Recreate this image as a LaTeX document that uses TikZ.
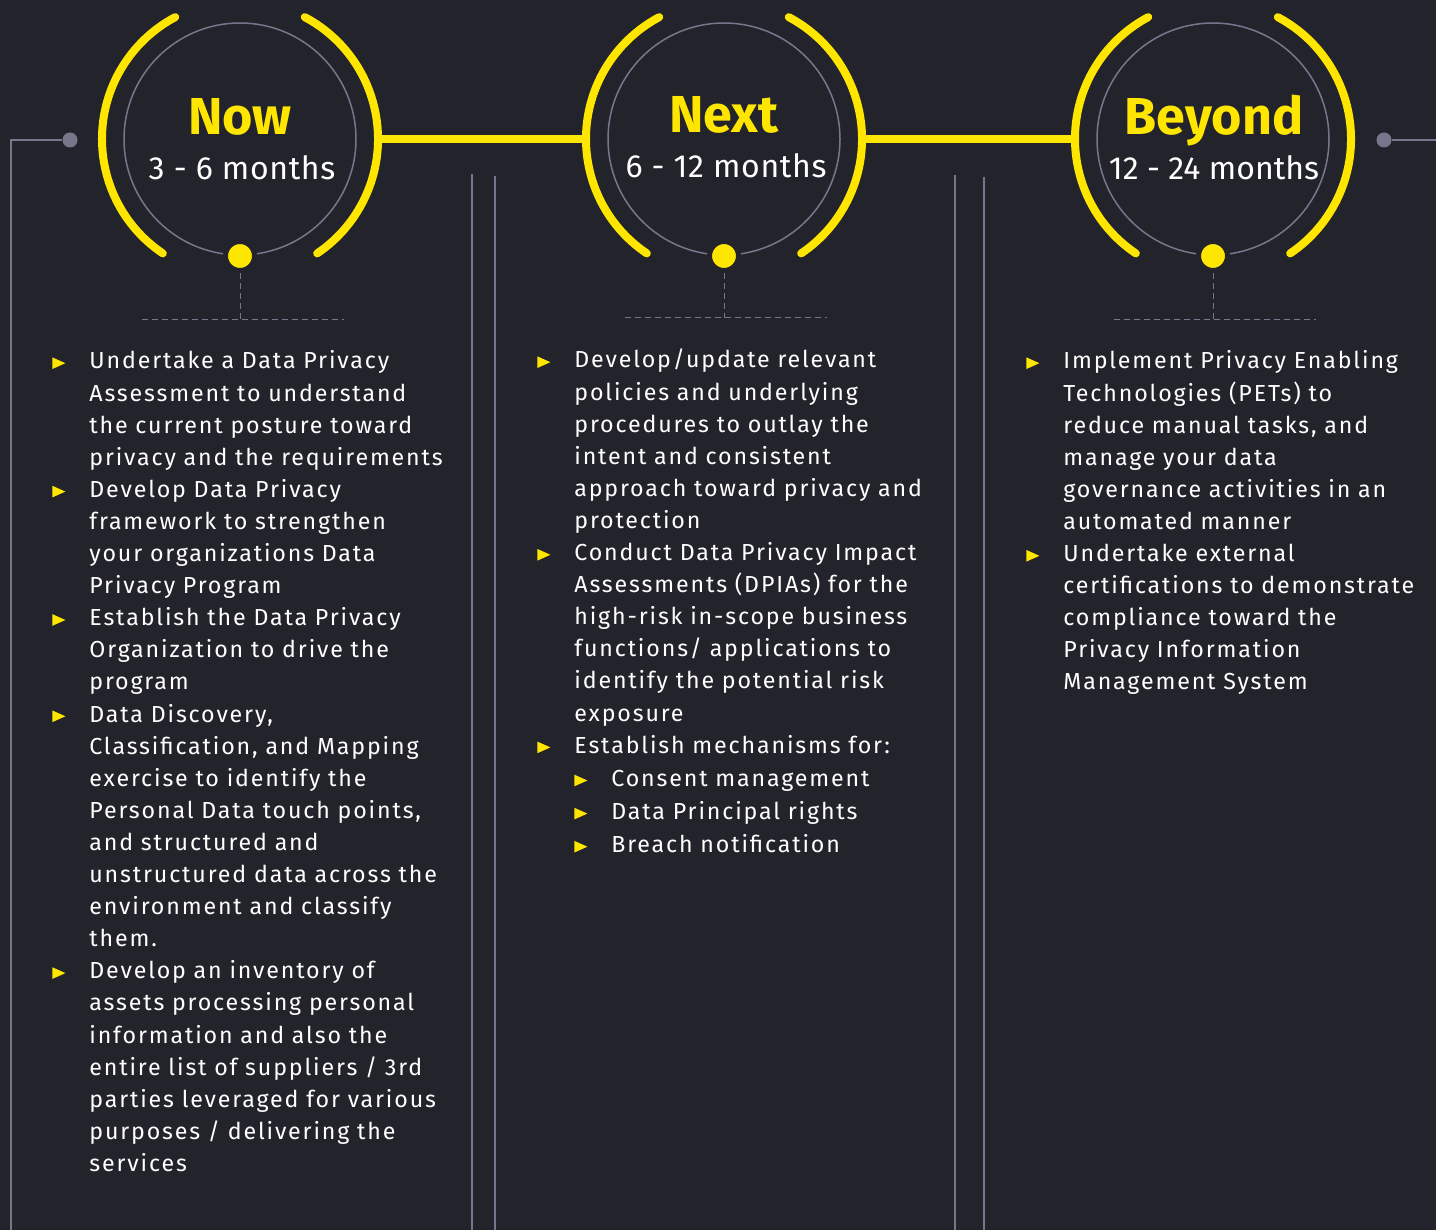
\documentclass[tikz,border=0pt]{standalone}
\usepackage{fontspec}
\setmainfont{Fira Sans}[LetterSpace=8]
\usepackage{xcolor}
\usepackage{tikz}
\usetikzlibrary{positioning}
\definecolor{PlanYellow}{RGB}{255,230,0}
\definecolor{PlanGray}{RGB}{118,118,140}
\definecolor{PlanBack}{RGB}{35,36,43}

% yellow pointer in front of an item, and the blank of the same width
\newcommand{\pointer}{\makebox[18.5pt][l]{\tikz[baseline=0pt]\fill[PlanYellow] (0pt,0pt) -- (6.5pt,2.9pt) -- (0pt,5.8pt) -- cycle;}}
\newcommand{\gap}{\makebox[18.5pt]{}}

\begin{document}
\begin{tikzpicture}[
  x=0.5pt, y=-0.5pt,
  ring/.style={
    circle,
    draw=PlanGray,
    line width=0.75pt,
    minimum size=116pt,
    inner sep=0pt,
    outer sep=11pt,
  },
  halo/.style={line width=4pt, PlanYellow, line cap=round},
  link/.style={line width=4pt, PlanYellow},
  dot/.style={
    circle,
    fill=PlanYellow,
    draw=PlanBack,
    line width=2.5pt,
    minimum size=14.5pt,
    inner sep=0pt,
  },
  pin/.style={circle, fill=PlanGray, minimum size=7.5pt, inner sep=0pt},
  rail/.style={line width=1pt, PlanGray},
  drop/.style={line width=0.5pt, PlanGray, dash pattern=on 3pt off 2pt},
  title/.style={font=\fontsize{26}{30}\selectfont\bfseries\addfontfeature{LetterSpace=0}, text=PlanYellow, inner sep=0pt},
  span/.style={font=\fontsize{16}{18}\selectfont\addfontfeature{LetterSpace=2}, text=white, inner sep=0pt},
  plan/.style={
    font=\fontsize{11.6}{16.05}\selectfont,
    text=white,
    align=left,
    text width=230pt,
    inner sep=0pt,
  },
]
  \useasboundingbox (0,0) rectangle (1436,1230);
  \fill[PlanBack] (0,0) rectangle (1436,1230);

  % column dividers
  \draw[line width=1pt, PlanGray] (472,174) -- (472,1230);
  \draw[line width=0.6pt, PlanGray] (495,176) -- (495,1230);
  \draw[line width=0.6pt, PlanGray] (955,175) -- (955,1230);
  \draw[line width=1pt, PlanGray] (984,177) -- (984,1230);

  % the three milestones (y runs downwards, so angles turn clockwise)
  \node[ring] (now) at (240,139) {};
  \node[ring] (next) at (724,139) {};
  \node[ring] (beyond) at (1213,139) {};

  \draw[halo] (now) ++(124:138) arc[start angle=124, end angle=242, radius=138];
  \draw[halo] (now) ++(-62:138) arc[start angle=-62, end angle=56, radius=138];
  \draw[halo] (next) ++(124:138) arc[start angle=124, end angle=242, radius=138];
  \draw[halo] (next) ++(-62:138) arc[start angle=-62, end angle=56, radius=138];
  \draw[halo] (beyond) ++(124:138) arc[start angle=124, end angle=242, radius=138];
  \draw[halo] (beyond) ++(-62:138) arc[start angle=-62, end angle=56, radius=138];

  \draw[link] (now) -- (next);
  \draw[link] (next) -- (beyond);

  \node[title, anchor=base] (now-title) at (240,135) {Now};
  \node[span, anchor=base] (now-span) at (242,180) {3 - 6 months};
  \node[title, anchor=base] (next-title) at (724,133) {Next};
  \node[span, anchor=base] (next-span) at (726,178) {6 - 12 months};
  \node[title, anchor=base] (beyond-title) at (1214,135) {Beyond};
  \node[span, anchor=base, font=\fontsize{16}{18}\selectfont\addfontfeature{LetterSpace=0}] (beyond-span) at (1214,180) {12 - 24 months};

  % dots under the rings and the dashed drops
  \node[dot, yshift=-58.5pt] (now-dot) at (now) {};
  \node[dot, yshift=-58.5pt] (next-dot) at (next) {};
  \node[dot, yshift=-58.5pt] (beyond-dot) at (beyond) {};
  \coordinate[yshift=-90.5pt] (now-foot) at (now);
  \coordinate[yshift=-89.5pt] (next-foot) at (next);
  \coordinate[yshift=-90.5pt] (beyond-foot) at (beyond);
  \draw[drop] (now-dot) -- (now-foot);
  \draw[drop] (next-dot) -- (next-foot);
  \draw[drop] (beyond-dot) -- (beyond-foot);
  \draw[drop] ([xshift=-49pt]now-foot) -- ([xshift=52pt]now-foot);
  \draw[drop] ([xshift=-49.5pt]next-foot) -- ([xshift=51.5pt]next-foot);
  \draw[drop] ([xshift=-49.5pt]beyond-foot) -- ([xshift=51.5pt]beyond-foot);

  % side rails
  \node[pin] (left-pin) at (70,140) {};
  \node[pin] (right-pin) at (1384,140) {};
  \coordinate (left-bend) at (11,140);
  \coordinate (left-end) at (11,1230);
  \coordinate (right-end) at (1436,140);
  \draw[rail] (left-pin) -- (left-bend) -- (left-end);
  \draw[rail] (right-pin) -- (right-end);

  % action lists
  \node[plan, anchor=base west] (now-list) at (52,369) {%
    \pointer Undertake a Data Privacy\\
    \gap Assessment to understand\\
    \gap the current posture toward\\
    \gap privacy and the requirements\\
    \pointer Develop Data Privacy\\
    \gap framework to strengthen\\
    \gap your organizations Data\\
    \gap Privacy Program\\
    \pointer Establish the Data Privacy\\
    \gap Organization to drive the\\
    \gap program\\
    \pointer Data Discovery,\\
    \gap Classification, and Mapping\\
    \gap exercise to identify the\\
    \gap Personal Data touch points,\\
    \gap and structured and\\
    \gap unstructured data across the\\
    \gap environment and classify\\
    \gap them.\\
    \pointer Develop an inventory of\\
    \gap assets processing personal\\
    \gap information and also the\\
    \gap entire list of suppliers / 3rd\\
    \gap parties leveraged for various\\
    \gap purposes / delivering the\\
    \gap services};

  \node[plan, anchor=base west] (next-list) at (537,368) {%
    \pointer Develop/update relevant\\
    \gap policies and underlying\\
    \gap procedures to outlay the\\
    \gap intent and consistent\\
    \gap approach toward privacy and\\
    \gap protection\\
    \pointer Conduct Data Privacy Impact\\
    \gap Assessments (DPIAs) for the\\
    \gap high-risk in-scope business\\
    \gap functions/ applications to\\
    \gap identify the potential risk\\
    \gap exposure\\
    \pointer Establish mechanisms for:\\[0.5pt]
    \gap\pointer Consent management\\[0.5pt]
    \gap\pointer Data Principal rights\\[0.5pt]
    \gap\pointer Breach notification};

  \node[plan, anchor=base west] (beyond-list) at (1026,369) {%
    \pointer Implement Privacy Enabling\\
    \gap Technologies (PETs) to\\
    \gap reduce manual tasks, and\\
    \gap manage your data\\
    \gap governance activities in an\\
    \gap automated manner\\
    \pointer Undertake external\\
    \gap certifications to demonstrate\\
    \gap compliance toward the\\
    \gap Privacy Information\\
    \gap Management System};
\end{tikzpicture}
\end{document}
